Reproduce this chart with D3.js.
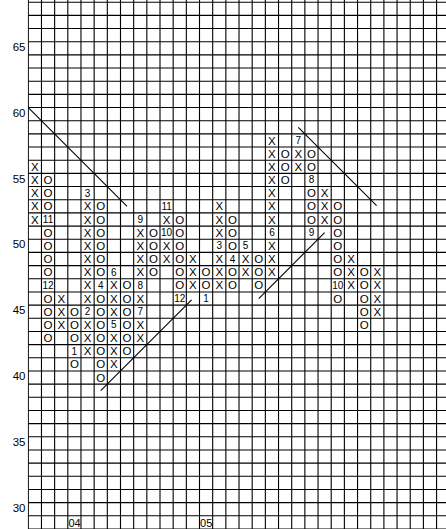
<!DOCTYPE html>
<html>
<head>
<meta charset="utf-8">
<script src="https://cdn.jsdelivr.net/npm/d3@7/dist/d3.min.js"></script>
<style>
  html, body { margin: 0; padding: 0; background: #fff; }
  svg { display: block; }
  text { font-family: "Liberation Sans", Arial, sans-serif; fill: #000; }
</style>
</head>
<body>
<svg id="chart" width="446" height="529"></svg>
<script>
// ---- data ----
const colTypes = ["X","O","X","O","X","O","X","O","X","O","X","O","X","O",
                  "X","O","X","O","X","O","X","O","X","O","X","O","X"];
const colLows  = [52,43,44,41,42,40,41,42,43,48,49,46,47,46,47,47,48,47,48,55,56,51,52,46,47,44,45];
const colHighs = [56,55,46,45,54,53,48,47,52,51,53,52,49,48,53,52,50,49,58,57,58,57,54,53,49,48,48];

// month markers: [column, price box, label]
const monthMarks = [
  [1,52,"11"],[1,47,"12"],[3,42,"1"],[4,45,"2"],[4,54,"3"],[5,47,"4"],
  [6,44,"5"],[6,48,"6"],[8,45,"7"],[8,47,"8"],[8,52,"9"],[10,51,"10"],
  [10,53,"11"],[11,46,"12"],[13,46,"1"],[14,50,"3"],[15,49,"4"],
  [16,50,"5"],[18,51,"6"],[20,58,"7"],[21,55,"8"],[21,51,"9"],[23,47,"10"]
];
const yearLabels = [[3,"04"],[13,"05"]];
const yTicks = [30,35,40,45,50,55,60,65];

// trend lines: [[col, price],[col, price]]
const trendLines = [
  [[-0.5,60.5],[7,53]],
  [[5,39],[11.9,45.9]],
  [[17,46],[22,51]],
  [[20,59],[25.95,53.05]]
];

// ---- layout ----
const W = 446, H = 529;
const box = 13.17;
const left = 28.3;
const top65 = 41.7; // top edge of the 65 box

const x = d3.scaleLinear().domain([-0.5, 0.5]).range([left, left + box]);
const y = d3.scaleLinear().domain([65.5, 64.5]).range([top65, top65 + box]);

const svg = d3.select("#chart");
svg.append("rect").attr("width", W).attr("height", H).attr("fill", "#fff");

const g = svg.append("g");

// grid: vertical lines at column boundaries
const nCols = Math.ceil((W - left) / box) + 1;
const vLines = d3.range(0, nCols).map(i => i - 0.5);
g.selectAll("line.v").data(vLines).enter().append("line")
  .attr("class", "v")
  .attr("x1", d => x(d)).attr("x2", d => x(d))
  .attr("y1", 0).attr("y2", H)
  .attr("stroke", "#000").attr("stroke-width", 1.1);

// grid: horizontal lines at box boundaries
const vTop = y.invert(0), vBot = y.invert(H);
const hLines = d3.range(Math.floor(vBot) - 1, Math.ceil(vTop) + 1).map(v => v + 0.5)
  .filter(v => y(v) >= 0 && y(v) <= H);
g.selectAll("line.h").data(hLines).enter().append("line")
  .attr("class", "h")
  .attr("x1", left).attr("x2", W)
  .attr("y1", d => y(d)).attr("y2", d => y(d))
  .attr("stroke", "#000").attr("stroke-width", 1.1);

// white background under the axis labels (left of plot)
svg.append("rect").attr("x", 0).attr("y", 0).attr("width", left - 0.6).attr("height", H).attr("fill", "#fff");

// y axis labels
svg.selectAll("text.ytick").data(yTicks).enter().append("text")
  .attr("class", "ytick")
  .attr("x", 25.5)
  .attr("y", d => y(d) + 2.6)
  .attr("text-anchor", "end")
  .attr("font-size", "11.5px")
  .text(d => d);

// build cells
const markMap = new Map(monthMarks.map(m => [m[0] + "_" + m[1], m[2]]));
const cells = [];
colTypes.forEach((t, i) => {
  for (let v = colLows[i]; v <= colHighs[i]; v++) {
    const key = i + "_" + v;
    if (markMap.has(key)) cells.push({c: i, v: v, s: markMap.get(key), m: true});
    else cells.push({c: i, v: v, s: t, m: false});
  }
});

svg.selectAll("text.cell").data(cells).enter().append("text")
  .attr("class", "cell")
  .attr("x", d => x(d.c))
  .attr("y", d => y(d.v) + (d.m ? 3.5 : 4.1))
  .attr("text-anchor", "middle")
  .attr("font-size", d => d.m ? "10px" : "11.5px")
  .text(d => d.s);

// trend lines
const lineGen = d3.line().x(d => x(d[0])).y(d => y(d[1]));
svg.selectAll("path.trend").data(trendLines).enter().append("path")
  .attr("class", "trend")
  .attr("d", lineGen)
  .attr("fill", "none")
  .attr("stroke", "#000")
  .attr("stroke-width", 1.1);

// year labels on bottom row (box 29)
svg.selectAll("text.year").data(yearLabels).enter().append("text")
  .attr("class", "year")
  .attr("x", d => x(d[0] - 0.5) + 0.6)
  .attr("y", y(29) + 4.3)
  .attr("text-anchor", "start")
  .attr("font-size", "11px")
  .text(d => d[1]);
</script>
</body>
</html>
